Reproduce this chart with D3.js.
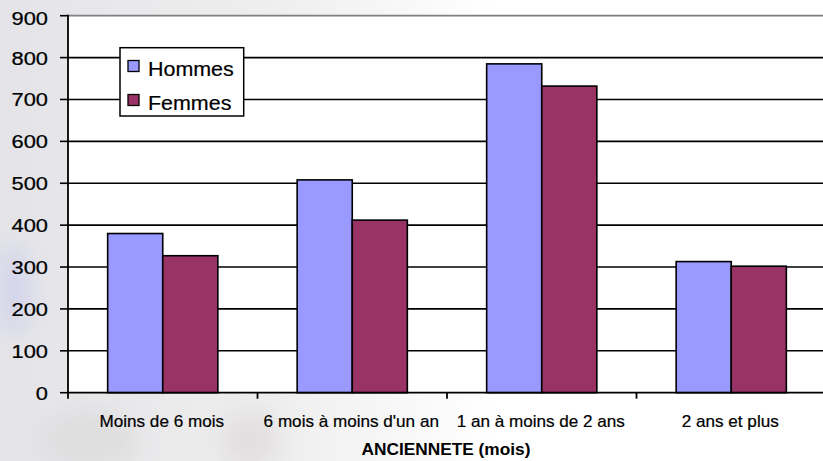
<!DOCTYPE html>
<html>
<head>
<meta charset="utf-8">
<script src="https://cdn.jsdelivr.net/npm/d3@7"></script>
<style>
  body { margin: 0; background: #fff; }
  svg { display: block; font-family: "Liberation Sans", Arial, sans-serif; }
</style>
</head>
<body>
<svg id="viz" width="823" height="461"></svg>
<script>
const categories = ["Moins de 6 mois", "6 mois à moins d'un an", "1 an à moins de 2 ans", "2 ans et plus"]
const series = ["Hommes", "Femmes"]
const hommes = [380, 508, 785, 313]
const femmes = [327, 412, 732, 302]
const yTicks = [0, 100, 200, 300, 400, 500, 600, 700, 800, 900]
const xTitle = "ANCIENNETE (mois)"

const colors = { Hommes: "#9999ff", Femmes: "#993366" }

const svg = d3.select("#viz"),
    plotLeft = 68, plotRight = 826, plotTop = 15.7, plotBottom = 392.7

// faint washed-out backdrop
const defs = svg.append("defs")
const grad = defs.append("linearGradient").attr("id", "wash")
    .attr("x1", 0).attr("x2", 1).attr("y1", 0).attr("y2", 0)
grad.append("stop").attr("offset", "0%").attr("stop-color", "#e4e4e8")
grad.append("stop").attr("offset", "35%").attr("stop-color", "#efefef")
grad.append("stop").attr("offset", "60%").attr("stop-color", "#ffffff")
const blur = defs.append("filter").attr("id", "soft")
    .attr("x", "-50%").attr("y", "-50%").attr("width", "200%").attr("height", "200%")
blur.append("feGaussianBlur").attr("stdDeviation", 12)

svg.append("rect").attr("width", 823).attr("height", 461).attr("fill", "url(#wash)")
svg.append("ellipse").attr("cx", 14).attr("cy", 290).attr("rx", 16).attr("ry", 45)
    .attr("fill", "#c8c8ee").attr("opacity", 0.6).attr("filter", "url(#soft)")
svg.append("ellipse").attr("cx", 90).attr("cy", 440).attr("rx", 50).attr("ry", 30)
    .attr("fill", "#d8d8d8").attr("opacity", 0.6).attr("filter", "url(#soft)")
svg.append("ellipse").attr("cx", 250).attr("cy", 440).attr("rx", 30).attr("ry", 30)
    .attr("fill", "#d8d0d0").attr("opacity", 0.5).attr("filter", "url(#soft)")

// scales
const y = d3.scaleLinear().domain([0, 900]).range([plotBottom, plotTop])
const x0 = d3.scaleBand().domain(categories).range([plotLeft, plotRight]).padding(0)
const x1 = d3.scaleBand().domain(series).range([0, x0.bandwidth()])
    .paddingInner(0).paddingOuter(0.72)

// plot area
svg.append("rect")
    .attr("x", plotLeft).attr("y", plotTop)
    .attr("width", plotRight - plotLeft).attr("height", plotBottom - plotTop)
    .attr("fill", "#fff")

svg.append("line")
    .attr("x1", plotLeft).attr("x2", plotRight)
    .attr("y1", plotTop).attr("y2", plotTop)
    .attr("stroke", "#808080").attr("stroke-width", 1.8)

// gridlines
svg.append("g").selectAll("line")
    .data(yTicks.filter(d => d > 0 && d < 900))
    .enter().append("line")
    .attr("x1", plotLeft).attr("x2", plotRight)
    .attr("y1", d => y(d)).attr("y2", d => y(d))
    .attr("stroke", "#000").attr("stroke-width", 1.6)

// bars
const rows = categories.map((c, i) => ({ cat: c, Hommes: hommes[i], Femmes: femmes[i] }))
svg.append("g").selectAll("g")
    .data(rows)
    .enter().append("g")
    .attr("transform", d => "translate(" + x0(d.cat) + ",0)")
    .selectAll("rect")
    .data(d => series.map(s => ({ key: s, value: d[s] })))
    .enter().append("rect")
    .attr("x", d => x1(d.key))
    .attr("y", d => y(d.value))
    .attr("width", x1.bandwidth())
    .attr("height", d => y(0) - y(d.value))
    .attr("fill", d => colors[d.key])
    .attr("stroke", "#000").attr("stroke-width", 1.6)

// y axis
const yAxis = svg.append("g")
yAxis.append("line")
    .attr("x1", plotLeft).attr("x2", plotLeft)
    .attr("y1", plotTop - 0.9).attr("y2", plotBottom + 6)
    .attr("stroke", "#000").attr("stroke-width", 1.8)
yAxis.selectAll(".tick").data(yTicks).enter().append("line")
    .attr("x1", plotLeft - 8).attr("x2", plotLeft)
    .attr("y1", d => y(d)).attr("y2", d => y(d))
    .attr("stroke", "#000").attr("stroke-width", 1.6)
yAxis.selectAll("text").data(yTicks).enter().append("text")
    .attr("transform", d => "translate(48," + (y(d) + 7 + (d === 900 ? 2 : 0)) + ") scale(1.15,1)")
    .attr("text-anchor", "end")
    .attr("font-size", 19)
    .attr("fill", "#000")
    .attr("stroke", "#000").attr("stroke-width", 0.25)
    .text(d => d)

// x axis
const xAxis = svg.append("g")
xAxis.append("line")
    .attr("x1", plotLeft).attr("x2", plotRight)
    .attr("y1", plotBottom).attr("y2", plotBottom)
    .attr("stroke", "#000").attr("stroke-width", 1.8)
xAxis.selectAll(".tick").data(categories.slice(1)).enter().append("line")
    .attr("x1", d => x0(d)).attr("x2", d => x0(d))
    .attr("y1", plotBottom).attr("y2", plotBottom + 6)
    .attr("stroke", "#000").attr("stroke-width", 1.8)
xAxis.selectAll("text").data(categories).enter().append("text")
    .attr("transform", d => "translate(" + (x0(d) + x0.bandwidth() / 2 - 1) + ",427) scale(1.07,1)")
    .attr("text-anchor", "middle")
    .attr("font-size", 16)
    .attr("fill", "#000")
    .attr("stroke", "#000").attr("stroke-width", 0.2)
    .text(d => d)

svg.append("text")
    .attr("transform", "translate(446,455) scale(1.08,1)")
    .attr("text-anchor", "middle")
    .attr("font-size", 16)
    .attr("font-weight", "bold")
    .attr("fill", "#000")
    .text(xTitle)

// legend
const legend = svg.append("g")
legend.append("rect")
    .attr("x", 120).attr("y", 47.7)
    .attr("width", 123.7).attr("height", 68.3)
    .attr("fill", "#fff").attr("stroke", "#000").attr("stroke-width", 1.5)
const item = legend.selectAll(".item").data(series).enter().append("g")
    .attr("transform", (d, i) => "translate(0," + (i * 34) + ")")
item.append("rect")
    .attr("x", 128).attr("y", 60.5)
    .attr("width", 11).attr("height", 11)
    .attr("fill", d => colors[d])
    .attr("stroke", "#000").attr("stroke-width", 1.3)
item.append("text")
    .attr("transform", "translate(148,76) scale(1.1,1)")
    .attr("font-size", 19.5)
    .attr("fill", "#000")
    .attr("stroke", "#000").attr("stroke-width", 0.2)
    .text(d => d)
</script>
</body>
</html>
